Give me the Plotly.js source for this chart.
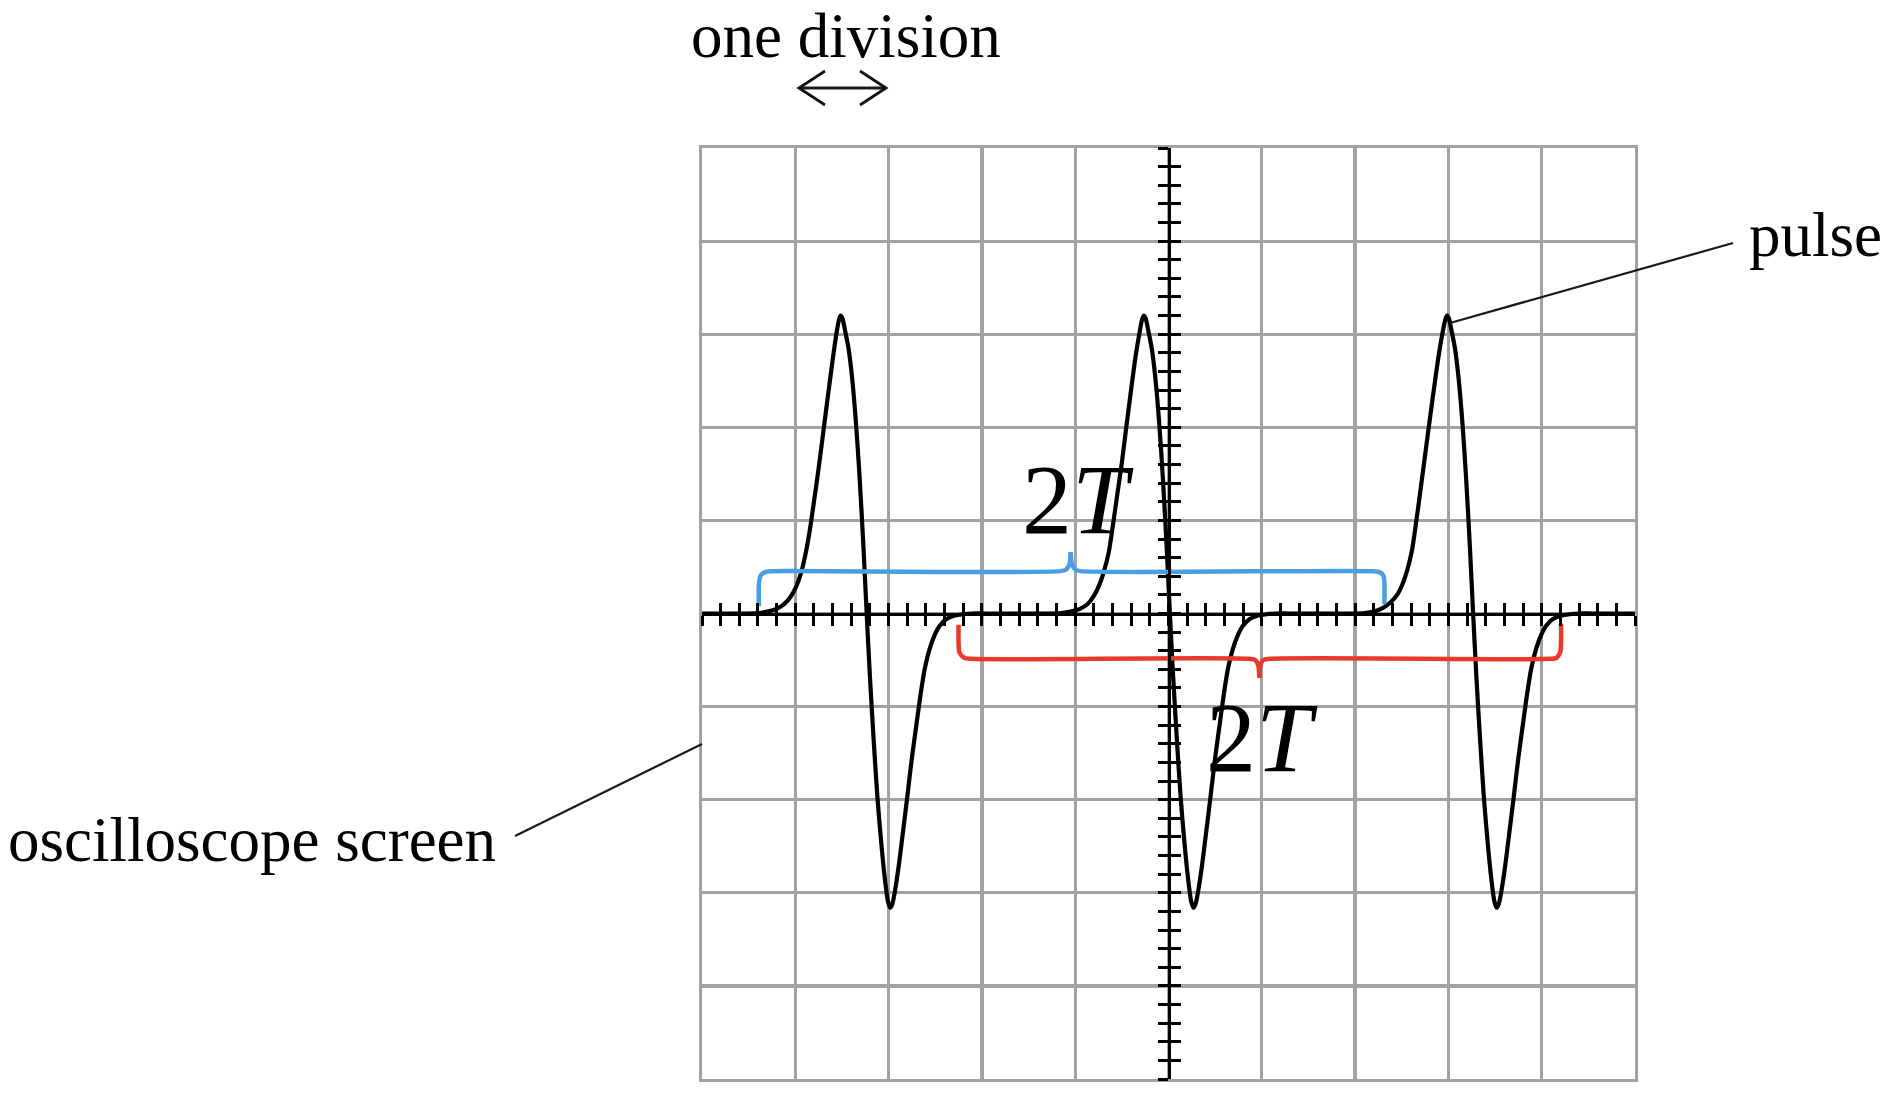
<!DOCTYPE html>
<html>
<head>
<meta charset="utf-8">
<script src="https://cdn.plot.ly/plotly-3.0.1.min.js"></script>
<style>
  html, body { margin: 0; padding: 0; background: #ffffff; }
  #chart { width: 1892px; height: 1102px; }
</style>
</head>
<body>
<div id="chart"></div>
<script>
// ---------------- data (in screen divisions) ----------------
const traceStartX = -5;
const traceEndX = 5;

const pulse1X = [-4.55,-4.40,-4.30,-4.20,-4.12,-4.05,-3.99,-3.94,-3.89,-3.85,-3.80,-3.75,-3.70,-3.65,-3.60,-3.56,-3.535,-3.515,-3.495,-3.465,-3.43,-3.39,-3.35,-3.31,-3.27,-3.235,-3.20,-3.16,-3.12,-3.08,-3.04,-3.005,-2.982,-2.96,-2.93,-2.89,-2.85,-2.80,-2.75,-2.70,-2.65,-2.61,-2.56,-2.51,-2.45,-2.38,-2.30,-2.20,-2.10,-1.95];
const pulse1Y = [0,0.005,0.02,0.05,0.10,0.18,0.29,0.43,0.64,0.86,1.20,1.56,1.95,2.34,2.72,3.00,3.14,3.20,3.17,3.03,2.85,2.52,2.05,1.45,0.72,0,-0.68,-1.36,-1.97,-2.45,-2.85,-3.10,-3.16,-3.12,-2.97,-2.70,-2.38,-1.97,-1.55,-1.18,-0.82,-0.58,-0.38,-0.24,-0.13,-0.06,-0.025,-0.008,0,0];

const pulse2X = [-1.30,-1.15,-1.05,-0.95,-0.87,-0.80,-0.74,-0.69,-0.64,-0.60,-0.55,-0.50,-0.45,-0.40,-0.35,-0.31,-0.285,-0.265,-0.245,-0.215,-0.18,-0.14,-0.10,-0.06,-0.02,0.015,0.05,0.09,0.13,0.17,0.21,0.245,0.268,0.29,0.32,0.36,0.40,0.45,0.50,0.55,0.60,0.64,0.69,0.74,0.80,0.87,0.95,1.05,1.15,1.30];
const pulse2Y = [0,0.005,0.02,0.05,0.10,0.19,0.31,0.46,0.66,0.92,1.27,1.62,2.02,2.41,2.78,3.02,3.15,3.20,3.17,3.03,2.85,2.52,2.05,1.45,0.72,0,-0.68,-1.36,-1.97,-2.45,-2.85,-3.10,-3.16,-3.12,-2.97,-2.70,-2.38,-1.97,-1.55,-1.18,-0.82,-0.58,-0.38,-0.24,-0.13,-0.06,-0.025,-0.008,0,0];

const pulse3X = [1.95,2.10,2.20,2.30,2.38,2.45,2.51,2.56,2.61,2.65,2.70,2.75,2.80,2.85,2.90,2.94,2.965,2.985,3.005,3.035,3.07,3.11,3.15,3.19,3.23,3.265,3.30,3.34,3.38,3.42,3.46,3.495,3.518,3.54,3.57,3.61,3.65,3.70,3.75,3.80,3.85,3.89,3.94,3.99,4.05,4.12,4.20,4.30,4.40,4.55];
const pulse3Y = [0,0.005,0.02,0.06,0.12,0.20,0.32,0.47,0.68,0.95,1.32,1.70,2.08,2.45,2.80,3.03,3.15,3.20,3.17,3.03,2.85,2.52,2.05,1.45,0.72,0,-0.68,-1.36,-1.97,-2.45,-2.85,-3.10,-3.16,-3.12,-2.97,-2.70,-2.38,-1.97,-1.55,-1.18,-0.82,-0.58,-0.38,-0.24,-0.13,-0.06,-0.025,-0.008,0,0];

// "2T" braces (blue above the axis, red below)
const blueBraceX = [-4.39,-4.39,-4.37,-4.31,-4.22,-1.16,-1.10,-1.062,-1.048,null,-1.048,-1.034,-0.996,-0.94,2.17,2.26,2.302,2.314,2.314];
const blueBraceY = [0.08,0.32,0.41,0.45,0.455,0.455,0.47,0.53,0.66,null,0.66,0.53,0.47,0.455,0.455,0.445,0.41,0.33,0.10];
const redBraceX = [-2.25,-2.25,-2.24,-2.19,-2.11,0.87,0.93,0.962,0.973,null,0.973,0.984,1.016,1.076,4.07,4.16,4.197,4.207,4.207];
const redBraceY = [-0.12,-0.32,-0.42,-0.475,-0.487,-0.487,-0.50,-0.56,-0.69,null,-0.69,-0.56,-0.50,-0.487,-0.487,-0.475,-0.42,-0.32,-0.11];

const labelOneDivision = "one division";
const labelPulse = "pulse";
const labelScreen = "oscilloscope screen";
const labelPeriod = "2<i>T</i>";

// ---------------- layout helpers (pixel -> paper) ----------------
const W = 1892, H = 1102;
const PL = 702, PR = 1635, PT = 148, PB = 1079;
const px = X => (X - PL) / (PR - PL);
const py = Y => (PB - Y) / (PB - PT);

const FONT = "Liberation Serif, Times New Roman, serif";
const GRID = "#a2a2a2";

const waveX = [traceStartX].concat(pulse1X, pulse2X, pulse3X, [traceEndX]);
const waveY = [0].concat(pulse1Y, pulse2Y, pulse3Y, [0]);

const traces = [
  { x: waveX, y: waveY, xaxis: 'x', yaxis: 'y', mode: 'lines',
    line: { color: '#000000', width: 4.2, shape: 'spline', smoothing: 0.8 },
    hoverinfo: 'skip', showlegend: false },
  { x: blueBraceX, y: blueBraceY, xaxis: 'x2', yaxis: 'y2', mode: 'lines', connectgaps: false,
    line: { color: '#4a9fe3', width: 4.5, shape: 'spline', smoothing: 0.8 },
    hoverinfo: 'skip', showlegend: false },
  { x: redBraceX, y: redBraceY, xaxis: 'x3', yaxis: 'y3', mode: 'lines', connectgaps: false,
    line: { color: '#e8392c', width: 4.5, shape: 'spline', smoothing: 0.8 },
    hoverinfo: 'skip', showlegend: false }
];

const mainAxis = {
  range: [-5, 5], tick0: 0, dtick: 1, showgrid: true, gridcolor: GRID, gridwidth: 3.2,
  showline: true, linecolor: GRID, linewidth: 3.2, mirror: true,
  zeroline: false, ticks: '', showticklabels: false, fixedrange: true
};
function centerAxis(over, tickdir) {
  return {
    range: [-5, 5], overlaying: over, anchor: 'free', position: 0.5,
    showgrid: false, zeroline: false, showline: true, linecolor: '#000000', linewidth: 3.6,
    ticks: tickdir, ticklen: 10, tickwidth: 3, tickcolor: '#000000',
    tick0: 0, dtick: 0.2, showticklabels: false, fixedrange: true
  };
}

const lineShape = (x0, y0, x1, y1, w) => ({
  type: 'line', xref: 'paper', yref: 'paper',
  x0: px(x0), y0: py(y0), x1: px(x1), y1: py(y1),
  line: { color: '#1a1a1a', width: w }
});
const pathShape = pts => ({
  type: 'path', xref: 'paper', yref: 'paper',
  path: pts.map((p, i) => (i ? 'L' : 'M') + px(p[0]) + ',' + py(p[1])).join(' '),
  line: { color: '#111111', width: 2.8 }
});

const layout = {
  width: W, height: H,
  margin: { l: PL, r: W - PR, t: PT, b: H - PB, pad: 0 },
  paper_bgcolor: '#ffffff', plot_bgcolor: '#ffffff',
  showlegend: false,
  xaxis: Object.assign({}, mainAxis),
  yaxis: Object.assign({}, mainAxis),
  xaxis2: centerAxis('x', 'outside'),
  yaxis2: centerAxis('y', 'outside'),
  xaxis3: centerAxis('x', 'inside'),
  yaxis3: centerAxis('y', 'inside'),
  shapes: [
    // "one division" double arrow
    lineShape(800, 88, 885, 88, 2.8),
    pathShape([[825, 71], [799, 88], [825, 105]]),
    pathShape([[860, 71], [886, 88], [860, 105]]),
    // leader lines
    lineShape(1733, 243, 1450, 323, 2.2),
    lineShape(515, 836, 702, 744, 2.2)
  ],
  annotations: [
    { text: labelOneDivision, xref: 'paper', yref: 'paper', x: px(846), y: py(36),
      xanchor: 'center', yanchor: 'middle', showarrow: false,
      font: { family: FONT, size: 63, color: '#000000' } },
    { text: labelPulse, xref: 'paper', yref: 'paper', x: px(1815), y: py(235),
      xanchor: 'center', yanchor: 'middle', showarrow: false,
      font: { family: FONT, size: 63, color: '#000000' } },
    { text: labelScreen, xref: 'paper', yref: 'paper', x: px(252), y: py(840),
      xanchor: 'center', yanchor: 'middle', showarrow: false,
      font: { family: FONT, size: 63, color: '#000000' } },
    { text: labelPeriod, xref: 'paper', yref: 'paper', x: px(1078), y: py(499),
      xanchor: 'center', yanchor: 'middle', showarrow: false,
      font: { family: FONT, size: 100, color: '#000000' } },
    { text: labelPeriod, xref: 'paper', yref: 'paper', x: px(1262), y: py(737),
      xanchor: 'center', yanchor: 'middle', showarrow: false,
      font: { family: FONT, size: 100, color: '#000000' } }
  ]
};

Plotly.newPlot('chart', traces, layout, { staticPlot: true, displayModeBar: false });
</script>
</body>
</html>
